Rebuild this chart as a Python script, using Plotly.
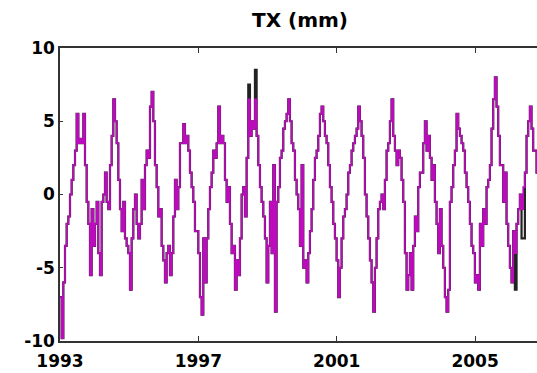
import numpy as np
import plotly.graph_objects as go

# Time grid (decimal years), one sample about every 17.6 days from 1993.0
start_year = 1993.0
step_years = 0.04817

# TX anomaly (mm), magenta series
tx_magenta = [
    -7, -9.8, -6, -3.5, -2, -1.5, 0, 1, 2, 3, 5.5, 3.5, 3.8, 3.5, 5.5, 2, -0.5, -2, -5.5, -1,
    -3.5, -2, -0.5, -4, -5.5, -0.5, 0, 1.5, -0.5, -1, 2, 4, 6.5, 5, 3.5, 1, -1, -2.5, -0.5, -3,
    -3.5, -4, -6.5, -3, -1, 0, -2, -3, -2, 1, -1, 2, 3, 2.5, 6, 7, 5, 2, 0.5, -1.5,
    -1, -3.5, -4.5, -6, -4, -3.5, -5.5, -4, -1.5,
    1, -1, 0.5, 3.5, 3.5, 4.8, 3.5, 4, 3, 1.5, 0.5, -0.5, -2.5, -2.5, -4, -7, -8.2, -3, -6, -3,
    -1, 0.5, 1.5, 3, 2.5, 3.5, 6, 3.5, 4, 3.5, 1, -0.5, 0.5, -2, -4, -3.5, -6.5, -4.5, -5.5, -3,
    0, 0.5, -1.5, 2.5, 6.5, 4, 5, 4.5, 6.5, 4, 2, 0.5, -0.5, -1.5, -3, -6, -3.5, -0.5, -4, 2,
    -8, -0.5, 0.5, 2.5, 3, 4.5, 5, 5.5, 6.5, 5, 3.5, 3,
    1, 0, -1, -3.5, 2, -5, -4.5, -6, -4, -2.5, -1, 1, 2.5, 3, 4, 5.5, 6, 5, 4, 3.5,
    2, 0.5, -0.5, -2, -3, -4.5, -7, -5, -3, -1.5, -1, 0, 1.5, 2, 3, 3.5, 4, 4.5, 6, 5,
    4, 2.5, 0, -1.5, -3, -4.5, -6, -8, -5, -3, -1, -0.5, 0, -1, 1, 3, 3.5, 5, 6.5, 4,
    3, 2, 3, 2.5, 1, -0.5, -4, -6.5, -5.5, -4, -6.5,
    -3.5, -1.5, -2.5, 0.5, 1.5, 1.5, 3.5, 5, 3, 4, 2.5, 1, 2, -0.5, -2, -4, -1, -3.5, -5, -7,
    -8, -6.5, -0.5, 0.5, 2, 3, 5.5, 4.5, 4, 3.5, 3, 1.5, 0.5, -0.5, -2, -3.5, -4, -6, -5.5, -6.5,
    -2, -3.5, -1, -2, 0.5, 1, 2, 4.5, 6.5, 8, 6, 4, 2, 2, -0.5, 1.5, -2, -3.5, -5, -6,
    -2.5, -4, -2, -1, 0, -1, 0.5, 1.5, 4, 5, 6, 4.5, 3, 3, 1.5, -3,
]

# Black series: identical to the magenta one except where it shows through
black_differences = {113: 7.5, 117: 8.5, 273: -6.5, 277: -3, 278: -3, 287: -3}

tx_black = list(tx_magenta)
for k, v in black_differences.items():
    tx_black[k] = v

t = start_year + step_years * np.arange(len(tx_magenta))

x_tick_years = [1993, 1997, 2001, 2005]
x_tick_labels = ["1993", "1997", "2001", "2005"]
y_tick_vals = [-10, -5, 0, 5, 10]
y_tick_labels = ["-10", "-5", "0", "5", "10"]

fig = go.Figure()
fig.add_trace(go.Scatter(x=t, y=tx_black, mode="lines", line=dict(color="#222222", width=2.2, shape="hv"),
                         showlegend=False, hoverinfo="skip"))
fig.add_trace(go.Scatter(x=t, y=tx_magenta, mode="lines", line=dict(color="#bb0cbb", width=1.7, shape="hv"),
                         showlegend=False))

font_family = "DejaVu Sans"
fig.update_layout(
    width=537, height=373,
    margin=dict(l=60, r=0, t=48, b=32),
    paper_bgcolor="white", plot_bgcolor="white",
    title=dict(text="<b>TX (mm)</b>", x=300 / 537, xref="container", xanchor="center",
               y=1 - 20 / 373, yref="container", yanchor="middle",
               font=dict(family=font_family, size=20, color="black")),
    xaxis=dict(range=[1993, 2006.79], tickvals=x_tick_years, ticktext=x_tick_labels,
               showgrid=False, zeroline=False, showline=True, linecolor="#333333", linewidth=1.5,
               mirror="ticks", ticks="inside", ticklen=5, tickcolor="#333333", tickwidth=1,
               ticklabelstandoff=4,
               tickfont=dict(family=font_family, size=17, color="black", weight="bold")),
    yaxis=dict(range=[-10, 10], tickvals=y_tick_vals, ticktext=y_tick_labels,
               showgrid=False, zeroline=False, showline=True, linecolor="#333333", linewidth=1.5,
               ticks="inside", ticklen=3, tickcolor="#333333", tickwidth=1,
               tickfont=dict(family=font_family, size=17, color="black", weight="bold")),
)

fig.write_html("out.html")
